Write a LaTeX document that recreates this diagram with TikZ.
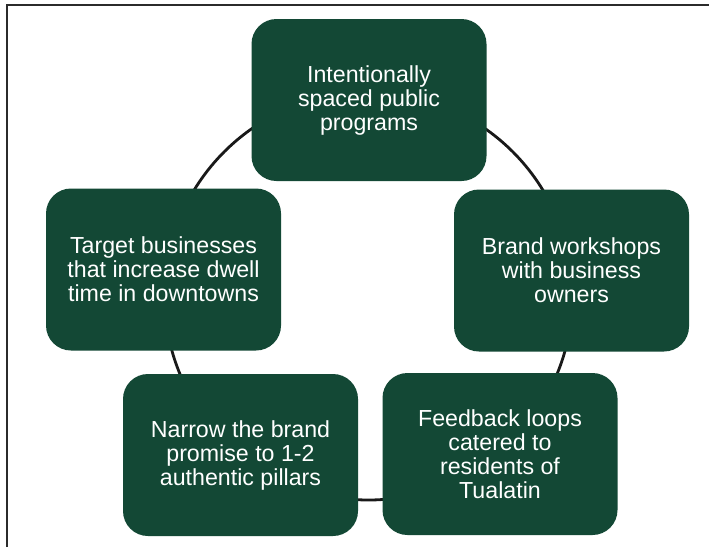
\documentclass[tikz,border=0pt]{standalone}
\usepackage{fontspec}
\setmainfont{Liberation Sans}
\definecolor{boxgreen}{HTML}{134835}
\definecolor{framegray}{HTML}{2B2B2B}
\begin{document}
\begin{tikzpicture}[x=1pt,y=-1pt,
  stepbox/.style={draw=none,fill=boxgreen,rounded corners=25pt,minimum width=235pt,minimum height=162pt,inner sep=0pt,
    text=white,align=center,font=\fontsize{23.2}{24}\selectfont},
  ring/.style={draw=black!90,line width=2.8pt}]
\useasboundingbox (0,0) rectangle (709,547);
\fill[white] (0,0) rectangle (709,547);
\coordinate (fa) at (7,547);
\coordinate (fb) at (7,5);
\coordinate (fc) at (709,5);
\draw[framegray,line width=2pt] (fa) -- (fb) -- (fc);
\coordinate (c) at (368.5,296);
\draw[ring] (c) circle[radius=204pt];
\node[stepbox] (top) at (369,100) {Intentionally\\spaced public\\programs};
\node[stepbox] (right) at (571.5,270.5) {Brand workshops\\with business\\owners};
\node[stepbox] (br) at (500,454) {Feedback loops\\catered to\\residents of\\Tualatin};
\node[stepbox] (bl) at (240.5,455) {Narrow the brand\\promise to 1-2\\authentic pillars};
\node[stepbox] (left) at (163.5,269.5) {Target businesses\\that increase dwell\\time in downtowns};
\end{tikzpicture}
\end{document}
